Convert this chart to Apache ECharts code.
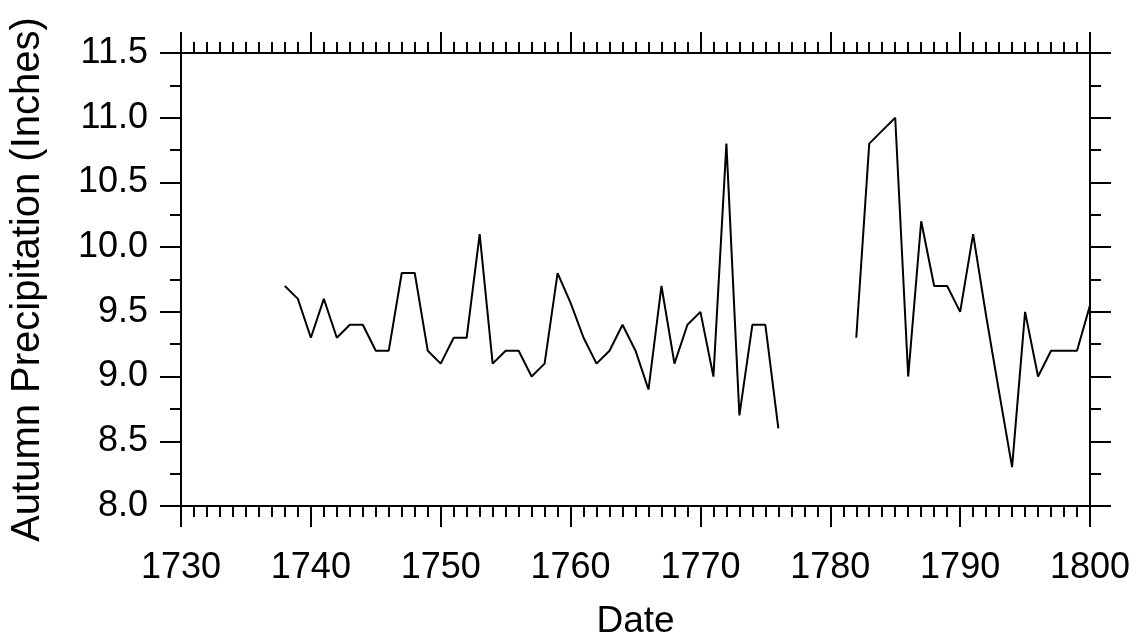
<!DOCTYPE html>
<html>
<head>
<meta charset="utf-8">
<script src="https://cdn.jsdelivr.net/npm/echarts@6/dist/echarts.min.js"></script>
<style>
html,body{margin:0;padding:0;background:#fff;}
#chart{width:1144px;height:641px;}
</style>
</head>
<body>
<div id="chart"></div>
<script>
const years = [1738,1739,1740,1741,1742,1743,1744,1745,1746,1747,1748,1749,1750,1751,1752,1753,1754,1755,1756,1757,1758,1759,1760,1761,1762,1763,1764,1765,1766,1767,1768,1769,1770,1771,1772,1773,1774,1775,1776,1777,1778,1779,1780,1781,1782,1783,1784,1785,1786,1787,1788,1789,1790,1791,1792,1793,1794,1795,1796,1797,1798,1799,1800];
const precipitation = [9.7,9.6,9.3,9.6,9.3,9.4,9.4,9.2,9.2,9.8,9.8,9.2,9.1,9.3,9.3,10.1,9.1,9.2,9.2,9.0,9.1,9.8,9.57,9.3,9.1,9.2,9.4,9.2,8.9,9.7,9.1,9.4,9.5,9.0,10.8,8.7,9.4,9.4,8.6,null,null,null,null,null,9.3,10.8,10.9,11.0,9.0,10.2,9.7,9.7,9.5,10.1,9.47,8.88,8.3,9.5,9.0,9.2,9.2,9.2,9.55];
const xTickLabels = ['1730','1740','1750','1760','1770','1780','1790','1800'];
const yTickLabels = ['8.0','8.5','9.0','9.5','10.0','10.5','11.0','11.5'];

const FONT = '"Liberation Sans", Arial, sans-serif';
const seriesData = years.map((y, i) => [y, precipitation[i]]);

const lineStyle = { color: '#000', width: 2 };
function xAxisCfg(pos, showLabel) {
  return {
    type: 'value', position: pos, min: 1730, max: 1800, interval: 10,
    axisLine: { show: true, onZero: false, lineStyle },
    axisTick: { show: true, inside: false, length: 21, lineStyle },
    minorTick: { show: true, splitNumber: 10, length: 11, lineStyle },
    splitLine: { show: false }, minorSplitLine: { show: false },
    axisLabel: { show: showLabel, fontSize: 36, fontFamily: FONT, color: '#000', margin: 44,
      formatter: v => xTickLabels[Math.round((v - 1730) / 10)] || '' },
    name: showLabel ? 'Date' : '', nameLocation: 'middle', nameGap: 97,
    nameTextStyle: { fontSize: 37, fontFamily: FONT, color: '#000' }
  };
}
function yAxisCfg(pos, showLabel) {
  return {
    type: 'value', position: pos, min: 8.0, max: 11.5, interval: 0.5,
    axisLine: { show: true, onZero: false, lineStyle },
    axisTick: { show: true, inside: false, length: 21, lineStyle },
    minorTick: { show: true, splitNumber: 2, length: 11, lineStyle },
    splitLine: { show: false }, minorSplitLine: { show: false },
    axisLabel: { show: showLabel, fontSize: 36, fontFamily: FONT, color: '#000', margin: 33,
      formatter: v => yTickLabels[Math.round((v - 8.0) / 0.5)] || '' },
    name: showLabel ? 'Autumn Precipitation (Inches)' : '', nameLocation: 'middle', nameGap: 133,
    nameTextStyle: { fontSize: 40, fontFamily: FONT, color: '#000' }
  };
}

const chart = echarts.init(document.getElementById('chart'), null, { renderer: 'canvas' });
chart.setOption({
  backgroundColor: '#fff',
  animation: false,
  grid: { left: 181, right: 54, top: 53, bottom: 135, containLabel: false, outerBoundsMode: 'none' },
  xAxis: [xAxisCfg('bottom', true), xAxisCfg('top', false)],
  yAxis: [yAxisCfg('left', true), yAxisCfg('right', false)],
  series: [{
    type: 'line', data: seriesData, xAxisIndex: 0, yAxisIndex: 0,
    showSymbol: false, connectNulls: false,
    lineStyle: { color: '#000', width: 2 }
  }]
});
</script>
</body>
</html>
